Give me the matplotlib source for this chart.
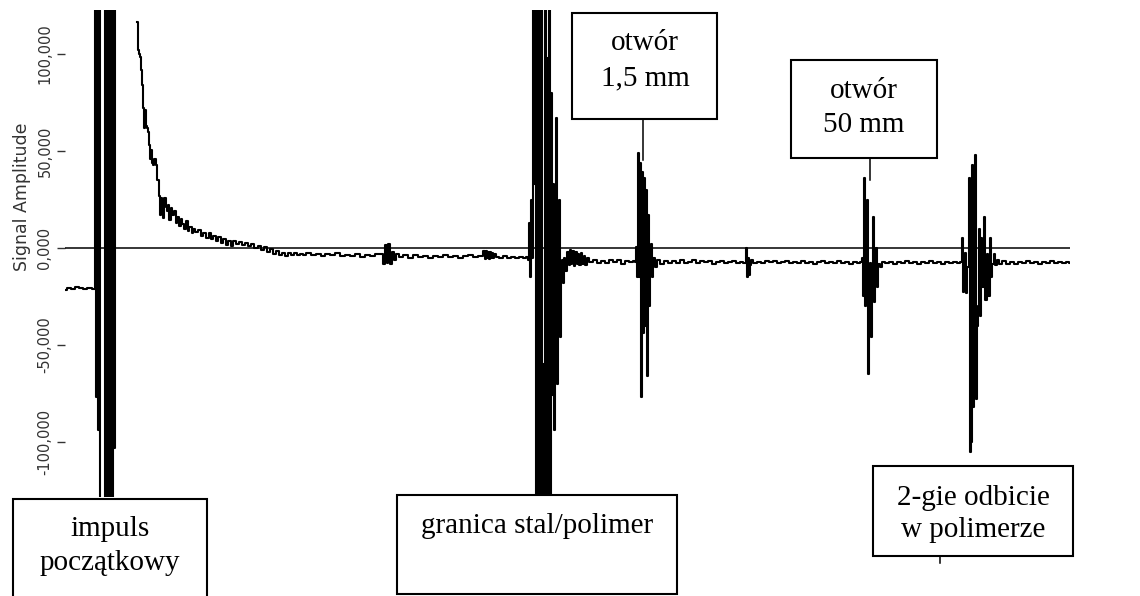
import numpy as np
import matplotlib
matplotlib.use('Agg')
import matplotlib.pyplot as plt
import matplotlib.patches as patches

# --- dane: próbki sygnału (indeks próbki, amplituda w tys.) ---
pre_t = [0, 4, 8, 12, 16, 20, 24, 29]
pre_v = [-21.5, -20.5, -21, -20, -20.8, -21.3, -20.6, -21]

# impuls poczatkowy (przesterowany)
imp_t = [30, 31, 32, 33, 34, 35, 39, 40, 41, 42, 43, 44, 45, 46, 47, 48, 49, 50, 51, 71]
imp_v = [200, -77, 200, -94, 200, -200, -200, 200, -200, 200, -200, 200, -200, 200,
         -200, 200, -103, 200, 250, np.nan]

# zanik po impulsie
decay_t = [72, 73, 74, 75, 76, 77, 78, 79, 80, 81, 82, 83, 84, 85, 86, 87, 88, 90, 91,
           93, 94, 95, 96, 97, 98, 100, 101, 102, 103, 105, 106, 107, 110, 111, 113,
           115, 116, 118, 120, 122, 123, 125, 128, 129, 131, 135, 137, 139, 143, 145,
           147, 150, 152, 155, 157, 160, 162, 165, 167, 170, 173, 176, 179, 182, 185,
           188, 191, 194, 197, 200, 203, 206, 209, 212, 215, 218, 221, 224, 227, 230,
           233, 236, 239]
decay_v = [116.5, 102, 100, 98.5, 91.8, 84, 72, 62, 71, 63, 61.9, 60, 53, 46, 50.5, 44,
           42.8, 46, 43, 35, 27, 17, 26, 22, 15.5, 25.8, 21, 19, 22, 14.5, 20.6, 17, 19,
           13, 16, 11.5, 15, 12.5, 10, 14, 9, 11, 7.5, 10, 8, 9.5, 6, 7.7, 5, 7.5, 4.5,
           6.2, 3.5, 5.5, 2.5, 4.5, 1.8, 3.6, 1, 3.5, 2, 3.2, 1.5, 2.6, 0.8, 2, 0, 1.2,
           -1, 0.5, -2, -0.5, -3, -1.5, -3.6, -2.5, -4, -2.6, -3.5, -2.8, -3.8, -3, -3.4]

base_t = [243, 248, 253, 258, 263, 268, 273, 278, 283, 288, 293, 298, 303, 308, 313, 317,
          319, 321, 323, 324, 326, 328, 330, 332, 336, 341, 346, 351, 356, 361, 366, 371,
          376, 381, 386, 391, 396, 401, 406, 411, 416, 420, 421, 422, 423, 424, 425, 426,
          427, 428, 429, 430, 432, 436, 440, 444, 448, 452, 456, 460, 462]
base_v = [-2.6, -3.8, -3, -4, -3.2, -3.6, -2.8, -4.2, -3.4, -3.9, -2.9, -4.4, -3.5, -4.1,
          -3.2, -3, -8, 1.5, -7.7, 2, -8, -2, -6, -3, -4.5, -3.8, -4.9, -3.6, -4.4, -3.9,
          -5, -4, -4.6, -3.7, -4.8, -4.1, -5.2, -4.3, -3.6, -4.8, -4, -1.5, -5.5, -1.8,
          -5.2, -2, -5.6, -2.2, -5, -2.6, -5.4, -3, -4.5, -5, -4.2, -5.3, -4.6, -5.1,
          -4.4, -5, -4.5]

# granica stal/polimer
gran_t = [463, 464, 465, 466, 467, 468, 469, 470, 471, 472, 473, 474, 475, 476, 477, 478,
          479, 480, 481, 482, 483, 484, 485, 486, 487, 488, 489, 490, 491, 492, 493, 494,
          495, 496, 497, 498, 499, 501]
gran_v = [-6, 13, -15, 25, -5, 200, 33, 200, -200, 200, -200, 200, -200, 200, -200, -60,
          -200, 200, -200, 98, -200, 200, -200, 80, -76, 33, -94, -40, 67, -70, -20, 25,
          -46, -10, -6, -18, -5, -12]

noise2_t = [503, 504, 505, 506, 508, 509, 511, 512, 514, 515, 517, 518, 520, 521, 523,
            526, 530, 534, 538, 542, 546, 550, 554, 558, 562, 566, 570]
noise2_v = [-2, -9, -1, -8, -1.5, -9.5, -2, -8, -3, -9, -2.5, -8.5, -4, -9, -5, -7, -6,
            -7.5, -6.5, -7.8, -6, -7.2, -6.4, -8, -6.6, -7.4, -6.8]

# otwór 1,5 mm
h15_t = [571, 572, 573, 574, 575, 576, 577, 578, 579, 580, 581, 582, 583, 584, 585, 586,
         587, 588, 589, 591, 593]
h15_v = [-7, 0.5, -15, 49, -15, 44, -77, 39, -44, 36, -40, 30, -66, 17, -30, -10, 2, -15,
         -5, -10, -6]

noise3_t = [597, 601, 605, 609, 613, 617, 621, 625, 629, 633, 637, 641, 645, 649, 653,
            657, 661, 665, 669, 673, 677, 680, 682, 683, 684, 685, 686, 687, 690, 694,
            698, 702, 706, 710, 714, 718, 722, 726, 730, 734, 738, 742, 746, 750, 754,
            758, 762, 766, 770, 774, 778, 782, 786, 790, 794, 797]
noise3_v = [-8, -6.5, -7.8, -6.8, -7.5, -6.2, -7.9, -7, -6.4, -7.6, -6.9, -7.3, -6.5, -8,
            -7, -6.6, -7.7, -7.1, -6.8, -7.5, -7, -7.8, 0, -15, -5, -14, -9, -6, -7.5, -7,
            -7.8, -6.9, -7.4, -6.7, -7.9, -7.2, -6.8, -7.6, -7, -7.8, -6.9, -7.5, -7.1, -8,
            -7.2, -6.8, -7.7, -7.1, -7.9, -6.9, -7.5, -7.2, -8, -7, -7.6, -7]

# otwór 50 mm
h50_t = [798, 799, 800, 801, 802, 803, 804, 805, 806, 807, 808, 809, 810, 811, 812, 813,
         814, 816, 818]
h50_v = [-5, -25, 36, -30, -10, 25, -65, -20, -7.7, -46, -10, 16, -28, -10, 0, -20, -8,
         -10, -7]

noise4_t = [822, 826, 830, 834, 838, 842, 846, 850, 854, 858, 862, 866, 870, 874, 878,
            882, 886, 890, 894, 897]
noise4_v = [-7.8, -7, -8.2, -7.3, -7.9, -6.9, -7.7, -7.2, -8, -7.1, -7.6, -6.9, -7.8,
            -7.3, -8.1, -7, -7.6, -7.2, -7.9, -7]

# 2-gie odbicie w polimerze
odb_t = [898, 899, 900, 901, 902, 903, 905, 906, 907, 908, 909, 910, 911, 912, 913, 914,
         915, 916, 917, 918, 920, 921, 923, 924, 926, 927, 928, 930, 931, 933, 935]
odb_v = [5, -22.7, -3, -2.6, -23, -10, 36, -105, -100, 42.8, -82, -60, 48, -78, -40, -30,
         10, -35, 5, -20, 16, -27, -3, -25, 5, -15, -8, -3, -9, -6, -8]

noise5_t = [939, 943, 947, 951, 955, 959, 963, 967, 971, 975, 979, 983, 987, 991, 995,
            999, 1003, 1005]
noise5_v = [-6.5, -8, -7, -8.4, -7.2, -7.9, -6.8, -7.6, -7, -8.2, -7.3, -7.8, -6.9, -7.5,
            -7.1, -7.9, -7.4, -7.6]

yticks = [100000, 50000, 0, -50000, -100000]
ytick_labels = ['100,000', '50,000', '0,000', '-50,000', '-100,000']

t = np.concatenate([pre_t, imp_t, decay_t, base_t, gran_t, noise2_t, h15_t,
                    noise3_t, h50_t, noise4_t, odb_t, noise5_t]).astype(float)
v = np.concatenate([pre_v, imp_v, decay_v, base_v, gran_v, noise2_v, h15_v,
                    noise3_v, h50_v, noise4_v, odb_v, noise5_v]) * 1000.0

W, H = 1140, 596
fig = plt.figure(figsize=(W / 100, H / 100), dpi=100)
fig.patch.set_facecolor('white')

# os wykresu w pikselach: lewo 65, prawo 1070, gora 10, dol 497
ax = fig.add_axes([65 / W, 1 - 497 / H, (1070 - 65) / W, (497 - 10) / H])
ax.plot(t, v, color='black', lw=1.5, drawstyle='steps-mid')
ax.axhline(0, color='black', lw=1.1)
ax.set_xlim(0, 1005)
ax.set_ylim(-128360, 122690)
for s in ax.spines.values():
    s.set_visible(False)
ax.set_xticks([])
ax.set_yticks(yticks)
ax.set_yticklabels(ytick_labels, rotation=90, va='center', fontsize=10.5,
                   color='#333333', family='DejaVu Sans')
ax.tick_params(axis='y', length=6, width=1, color='#333333', pad=3)

fig.text(22 / W, 1 - 197 / H, 'Signal Amplitude', rotation=90, ha='center',
         va='center', fontsize=12.5, color='#333333', family='DejaVu Sans')

# warstwa z opisami (wspolrzedne w pikselach)
ov = fig.add_axes([0, 0, 1, 1], zorder=5)
ov.set_xlim(0, W)
ov.set_ylim(H, 0)
ov.axis('off')
ov.patch.set_alpha(0)

serif = ['Liberation Serif', 'DejaVu Serif']
fs = 21

def box(x0, y0, w, h, lines, cx, baselines):
    ov.add_patch(patches.Rectangle((x0, y0), w, h, facecolor='white',
                                   edgecolor='black', lw=1.5, clip_on=False))
    for txt, yb in zip(lines, baselines):
        ov.text(cx, yb, txt, ha='center', va='baseline', fontsize=fs, family=serif)

# linie wskaznikowe
ov.plot([643, 643], [119, 160], color='black', lw=1.1)
ov.plot([870, 870], [158, 180], color='black', lw=1.1)
ov.plot([940, 940], [556, 563], color='black', lw=1.1)

box(13, 499, 194, 110, ['impuls', 'początkowy'], 110, [536, 570])
box(397, 495, 280, 99, ['granica stal/polimer'], 537, [533])
box(873, 466, 200, 90, ['2-gie odbicie', 'w polimerze'], 973, [505, 537])
box(572, 13, 145, 106, ['otwór', '1,5 mm'], 645, [50, 85])
box(791, 60, 146, 98, ['otwór', '50 mm'], 864, [98, 132])

fig.savefig('out.png', dpi=100, facecolor='white')
